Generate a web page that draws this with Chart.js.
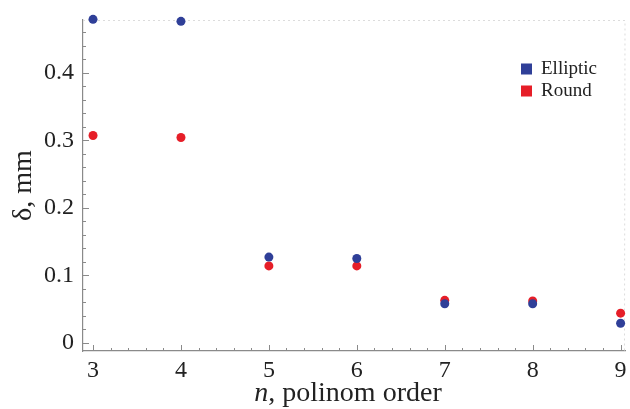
<!DOCTYPE html>
<html>
<head>
    <title>Polynomial order vs delta</title>
    <script src="https://cdn.jsdelivr.net/npm/chart.js"></script>
    <style>
        html, body { margin: 0; padding: 0; background: #fff; }
        #chartContainer { width: 630px; height: 409px; }
    </style>
</head>
<body>
    <div id="chartContainer">
        <canvas id="myChart" width="630" height="409"></canvas>
    </div>

    <script>
        // polynomial order n
        const orders = [3, 4, 5, 6, 7, 8, 9];
        // delta, mm
        const ellipticValues = [0.479, 0.476, 0.127, 0.125, 0.058, 0.058, 0.029];
        const roundValues = [0.307, 0.304, 0.114, 0.114, 0.063, 0.062, 0.044];
        const yTickLabels = ['0', '0.1', '0.2', '0.3', '0.4'];
        const xTickLabels = ['3', '4', '5', '6', '7', '8', '9'];

        const blue = '#2f3f98';
        const red = '#e61e28';
        const serif = '"Liberation Serif", "Times New Roman", serif';

        const toPoints = vals => orders.map((n, i) => ({ x: n, y: vals[i] }));

        // major + minor tick values
        function yTickValues() {
            const out = [];
            for (let i = 0; i <= 23; i++) out.push(+(i * 0.02).toFixed(2));
            return out;
        }
        function xTickValues() {
            const out = [];
            for (let i = 0; i <= 30; i++) out.push(+(3 + i * 0.2).toFixed(1));
            return out;
        }
        const isMajorY = v => Math.abs(v * 10 - Math.round(v * 10)) < 1e-6;
        const isMajorX = v => Math.abs(v - Math.round(v)) < 1e-6;

        // inward tick marks, dotted top/right frame (under the points), titles and legend
        const framePlugin = {
            id: 'frame',
            beforeDatasetsDraw(chart) {
                const c = chart.ctx;
                const a = chart.chartArea;
                const xs = chart.scales.x, ys = chart.scales.y;
                c.save();
                c.strokeStyle = '#8a8a8a';
                c.lineWidth = 1;
                ys.ticks.forEach(t => {
                    const py = Math.round(ys.getPixelForValue(t.value)) + 0.5;
                    const len = isMajorY(t.value) ? 6 : 3;
                    c.beginPath(); c.moveTo(a.left, py); c.lineTo(a.left + len, py); c.stroke();
                });
                xs.ticks.forEach(t => {
                    const px = Math.round(xs.getPixelForValue(t.value)) + 0.5;
                    const len = isMajorX(t.value) ? 6 : 3;
                    c.beginPath(); c.moveTo(px, a.bottom); c.lineTo(px, a.bottom - len); c.stroke();
                });
                c.strokeStyle = '#dcdcdc';
                c.setLineDash([2, 3]);
                c.beginPath();
                c.moveTo(a.left, a.top + 0.5); c.lineTo(a.right, a.top + 0.5);
                c.lineTo(a.right - 0.5, a.bottom);
                c.stroke();
                c.restore();
            },
            afterDraw(chart) {
                const c = chart.ctx;
                const a = chart.chartArea;
                c.save();
                // axis titles
                c.fillStyle = '#222';
                c.textBaseline = 'middle';
                const cx = (a.left + a.right) / 2;
                c.font = 'italic 28px ' + serif;
                const nW = c.measureText('n').width;
                c.font = '28px ' + serif;
                const rest = ', polinom order';
                const rW = c.measureText(rest).width;
                const x0 = cx - (nW + rW) / 2 - 6;
                c.textAlign = 'left';
                c.font = 'italic 28px ' + serif;
                c.fillText('n', x0, 394);
                c.font = '28px ' + serif;
                c.fillText(rest, x0 + nW, 394);

                c.save();
                c.translate(24, (a.top + a.bottom) / 2);
                c.rotate(-Math.PI / 2);
                c.textAlign = 'center';
                c.fillText('δ, mm', 0, 0);
                c.restore();

                // legend
                c.font = '19px ' + serif;
                c.textAlign = 'left';
                chart.data.datasets.forEach((ds, i) => {
                    const ly = 69 + i * 22;
                    c.fillStyle = ds.backgroundColor;
                    c.fillRect(521, ly - 5.5, 11, 11);
                    c.fillStyle = '#222';
                    c.fillText(ds.label, 541, ly);
                });
                c.restore();
            }
        };

        const ctx = document.getElementById('myChart').getContext('2d');
        const myChart = new Chart(ctx, {
            type: 'scatter',
            data: {
                datasets: [{
                    label: 'Elliptic',
                    data: toPoints(ellipticValues),
                    backgroundColor: blue,
                    borderColor: blue,
                    pointRadius: 4.5,
                    borderWidth: 0,
                    clip: false
                }, {
                    label: 'Round',
                    data: toPoints(roundValues),
                    backgroundColor: red,
                    borderColor: red,
                    pointRadius: 4.5,
                    borderWidth: 0,
                    clip: false
                }]
            },
            options: {
                responsive: false,
                animation: false,
                layout: { padding: { top: 20, right: 5, left: 0, bottom: 0 } },
                plugins: {
                    legend: { display: false },
                    tooltip: { enabled: false }
                },
                scales: {
                    x: {
                        type: 'linear',
                        min: 2.886,
                        max: 9.05,
                        afterBuildTicks: s => { s.ticks = xTickValues().map(v => ({ value: v })); },
                        afterFit: s => { s.height = 58; s.paddingLeft = 0; s.paddingRight = 0; },
                        grid: { display: false, drawTicks: false },
                        border: { display: true, color: '#8a8a8a', width: 1.2 },
                        ticks: {
                            autoSkip: false,
                            maxRotation: 0,
                            padding: 5,
                            color: '#222',
                            font: { family: serif, size: 24 },
                            callback: v => isMajorX(v) ? xTickLabels[orders.indexOf(Math.round(v))] : ''
                        }
                    },
                    y: {
                        min: -0.012,
                        max: 0.478,
                        afterBuildTicks: s => { s.ticks = yTickValues().map(v => ({ value: v })); },
                        afterFit: s => { s.width = 83; s.paddingTop = 0; s.paddingBottom = 0; },
                        grid: { display: false, drawTicks: false },
                        border: { display: true, color: '#8a8a8a', width: 1.2 },
                        ticks: {
                            autoSkip: false,
                            padding: 9,
                            color: '#222',
                            font: { family: serif, size: 24 },
                            callback: v => isMajorY(v) ? yTickLabels[Math.round(v * 10)] : ''
                        }
                    }
                }
            },
            plugins: [framePlugin]
        });
    </script>
</body>
</html>
